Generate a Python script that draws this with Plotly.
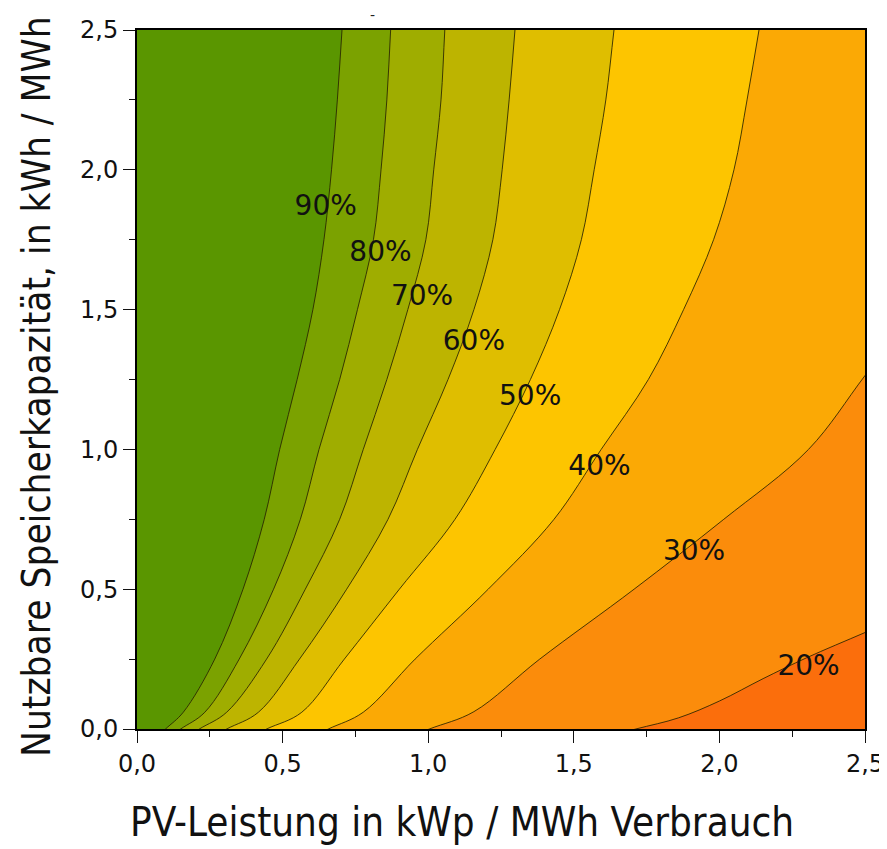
import plotly.graph_objects as go

# ---- data ----
# contour lines (Eigenverbrauchsanteil levels): x positions at given storage values y
y_grid = [0.0, 0.06, 0.25, 0.5, 0.75, 1.0, 1.25, 1.5, 1.75, 2.0, 2.25, 2.5]
x_90 = [0.098, 0.159, 0.267, 0.364, 0.437, 0.490, 0.550, 0.604, 0.642, 0.668, 0.688, 0.704]
x_80 = [0.150, 0.233, 0.351, 0.469, 0.561, 0.625, 0.696, 0.757, 0.812, 0.838, 0.858, 0.871]
x_70 = [0.214, 0.308, 0.445, 0.578, 0.696, 0.777, 0.858, 0.930, 0.992, 1.019, 1.044, 1.057]
x_60 = [0.308, 0.417, 0.558, 0.720, 0.862, 0.963, 1.068, 1.157, 1.222, 1.254, 1.278, 1.298]
x_50 = [0.445, 0.566, 0.712, 0.901, 1.092, 1.230, 1.351, 1.451, 1.526, 1.570, 1.610, 1.638]
x_40 = [0.657, 0.777, 0.955, 1.206, 1.432, 1.594, 1.756, 1.877, 1.980, 2.050, 2.095, 2.136]
x_30 = [1.004, 1.157, 1.383, 1.707, 2.015, 2.306, 2.500]
y_30 = [0.0, 0.062, 0.25, 0.5, 0.75, 1.0, 1.264]
x_20 = [1.713, 1.860, 2.000, 2.150, 2.300, 2.500]
y_20 = [0.0, 0.04, 0.10, 0.18, 0.255, 0.345]

levels = [20, 30, 40, 50, 60, 70, 80, 90]
line_x = [x_20, x_30, x_40, x_50, x_60, x_70, x_80, x_90]
line_y = [y_20, y_30, y_grid, y_grid, y_grid, y_grid, y_grid, y_grid]

# band colours: below 20 %, then the band above each level
color_low = "#fb6e0c"
band_colors = ["#fb8c0b", "#fba905", "#fdc500", "#dfbe00", "#bdb400",
               "#9fad00", "#7ba200", "#5a9600"]

# contour label positions
label_text = ["90%", "80%", "70%", "60%", "50%", "40%", "30%", "20%"]
label_x = [0.648, 0.836, 0.979, 1.157, 1.350, 1.588, 1.913, 2.306]
label_y = [1.864, 1.699, 1.543, 1.380, 1.185, 0.935, 0.629, 0.218]

X_MAX = 2.5
Y_MAX = 2.5
FAR = 1.5  # how far outside the axes the closing path runs (hidden by clipping)

# the page body has an 8px margin; plot area should sit at x 137..865, y 30..729
PAGE_OFF = 8
FIG_W, FIG_H = 887 - PAGE_OFF, 849 - PAGE_OFF
M_L, M_R, M_T, M_B = 137 - PAGE_OFF, 22, 30 - PAGE_OFF, 120
PLOT_W = FIG_W - M_L - M_R
PLOT_H = FIG_H - M_T - M_B


def px_to_paper_x(px):
    return (px - PAGE_OFF - M_L) / PLOT_W


def px_to_paper_y(py):
    return (FIG_H - M_B - (py - PAGE_OFF)) / PLOT_H


def extended(lx, ly):
    """continue a contour line one step past each border (clipped away)."""
    xs = [2 * lx[0] - lx[1]] + list(lx) + [2 * lx[-1] - lx[-2]]
    ys = [2 * ly[0] - ly[1]] + list(ly) + [2 * ly[-1] - ly[-2]]
    return xs, ys


fig = go.Figure()

# filled bands: region above/left of each contour line
for lx, ly, col in zip(line_x, line_y, band_colors):
    xs, ys = extended(lx, ly)
    if ly[-1] < Y_MAX:  # line leaves through the right border
        xs.append(X_MAX + FAR)
        ys.append(Y_MAX + FAR)
    xs += [-FAR, -FAR]
    ys += [Y_MAX + FAR, -FAR]
    fig.add_trace(go.Scatter(x=xs, y=ys, mode="lines", fill="toself",
                             fillcolor=col, line=dict(width=0, shape="spline"),
                             hoverinfo="skip", showlegend=False))

# contour lines
for lx, ly in zip(line_x, line_y):
    xs, ys = extended(lx, ly)
    fig.add_trace(go.Scatter(x=xs, y=ys, mode="lines",
                             line=dict(color="rgba(40,35,0,0.85)", width=1, shape="spline"),
                             hoverinfo="skip", showlegend=False))

# labels
fig.add_trace(go.Scatter(x=label_x, y=label_y, mode="text", text=label_text,
                         textfont=dict(family="DejaVu Sans", size=28, color="#111"),
                         hoverinfo="skip", showlegend=False))

axis_common = dict(
    showgrid=False, zeroline=False, automargin=False,
    showline=True, linecolor="black", linewidth=2, mirror=True,
    ticks="outside", ticklen=12, tickwidth=1.2, tickcolor="#111",
    tickfont=dict(family="DejaVu Sans", size=24, color="#111"),
    tickformat=".1f", dtick=0.5, tick0=0,
    minor=dict(dtick=0.25, ticks="outside", ticklen=6, tickwidth=1.2, tickcolor="#111"),
)

title_family = "DejaVu Sans Condensed, Liberation Sans Narrow, DejaVu Sans"

fig.update_layout(
    width=FIG_W, height=FIG_H,
    margin=dict(l=M_L, r=M_R, t=M_T, b=M_B, autoexpand=False),
    paper_bgcolor="white",
    plot_bgcolor=color_low,
    separators=",.",
    xaxis=dict(range=[0, X_MAX], **axis_common),
    yaxis=dict(range=[0, Y_MAX], **axis_common),
    annotations=[
        dict(text="PV-Leistung in kWp / MWh Verbrauch", xref="paper", yref="paper",
             x=px_to_paper_x(462), y=px_to_paper_y(822), xanchor="center", yanchor="middle",
             showarrow=False, font=dict(family=title_family, size=40, color="#111")),
        dict(text="Nutzbare Speicherkapazität, in kWh / MWh", xref="paper", yref="paper",
             x=px_to_paper_x(36), y=px_to_paper_y(387), xanchor="center", yanchor="middle",
             textangle=-90, showarrow=False,
             font=dict(family=title_family, size=38.5, color="#111")),
        dict(text="-", xref="paper", yref="paper",
             x=px_to_paper_x(372), y=px_to_paper_y(15), xanchor="center", yanchor="middle",
             showarrow=False, font=dict(family="DejaVu Sans", size=14, color="#222")),
    ],
)

fig.write_html("out.html")
